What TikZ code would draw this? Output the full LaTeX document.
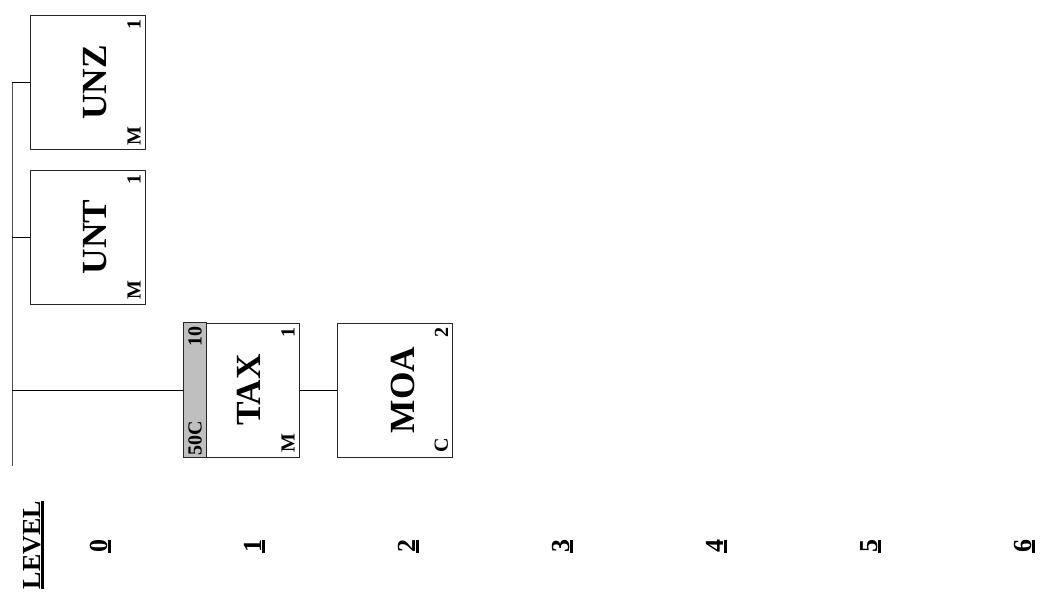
\documentclass[tikz,border=0pt]{standalone}
\usepackage{fontspec}
\setmainfont{Liberation Serif}
\usetikzlibrary{positioning, calc}

% thick underline for the level row
\newcommand{\ulbold}[1]{\setbox0\hbox{#1}\rlap{\vrule width \wd0 height -1pt depth 3pt}\box0}

\begin{document}
\begin{tikzpicture}[
    x=0.75pt, y=-0.75pt,
    seg/.style={rectangle, draw=black!85, line width=0.75pt, rotate=90,
                minimum width=100.5pt, minimum height=86.25pt, inner sep=0pt,
                text height=29pt, text depth=0pt,
                font=\fontsize{26.5}{26.5}\selectfont\bfseries},
    tag/.style={rotate=90, inner sep=3.5pt,
                font=\fontsize{15}{15}\selectfont\bfseries},
    lvl/.style={rotate=90, anchor=base, inner sep=0pt,
                font=\fontsize{19.5}{19.5}\selectfont\bfseries},
    link/.style={draw=black, line width=0.75pt},
]
    \useasboundingbox (0,0) rectangle (1049,596);

    % Segments
    \node[seg] (unz) at (87.5,82.5) {UNZ};
    \node[seg] (unt) at (87.5,237) {UNT};
    \node[seg] (tax) at (241.5,390) {TAX};
    \node[seg] (moa) at (395,390) {MOA};

    % Group header strip
    \draw[draw=black!85, fill=black!25, line width=0.75pt]
        (tax.north west) rectangle ($(tax.north east)+(23,0)$);
    \node[tag, anchor=west, inner sep=1.5pt] (taxgrp) at ($(tax.north west)+(11.5,0)$) {50C};
    \node[tag, anchor=east, inner sep=2.5pt] (taxrep) at ($(tax.north east)+(11.5,0)$) {10};

    % Status and repeat marks
    \node[tag, anchor=south west] (unzst) at (unz.south west) {M};
    \node[tag, anchor=south east] (unzmax) at (unz.south east) {1};
    \node[tag, anchor=south west] (untst) at (unt.south west) {M};
    \node[tag, anchor=south east] (untmax) at (unt.south east) {1};
    \node[tag, anchor=south west] (taxst) at (tax.south west) {M};
    \node[tag, anchor=south east] (taxmax) at (tax.south east) {1};
    \node[tag, anchor=south west] (moast) at (moa.south west) {C};
    \node[tag, anchor=south east] (moamax) at (moa.south east) {2};

    % Tree lines
    \coordinate (trunktop) at (12,82.5);
    \coordinate (trunkend) at (12,466);
    \draw[link, draw=black!70] (trunktop) -- (trunkend);
    \draw[link] (trunktop) -- (unz.north);
    \draw[link] (trunktop |- unt.north) -- (unt.north);
    \draw[link] (trunktop |- tax.north) -- (tax.north);
    \draw[link] (tax.south) -- (moa.north);

    % Level row
    \node[lvl] (levelhd) at (40,545) {\ulbold{LEVEL}};
    \foreach \lv in {0,...,6}
        \node[lvl] (lv\lv) at ({107+154*\lv},546) {\ulbold{\lv}};
\end{tikzpicture}
\end{document}
